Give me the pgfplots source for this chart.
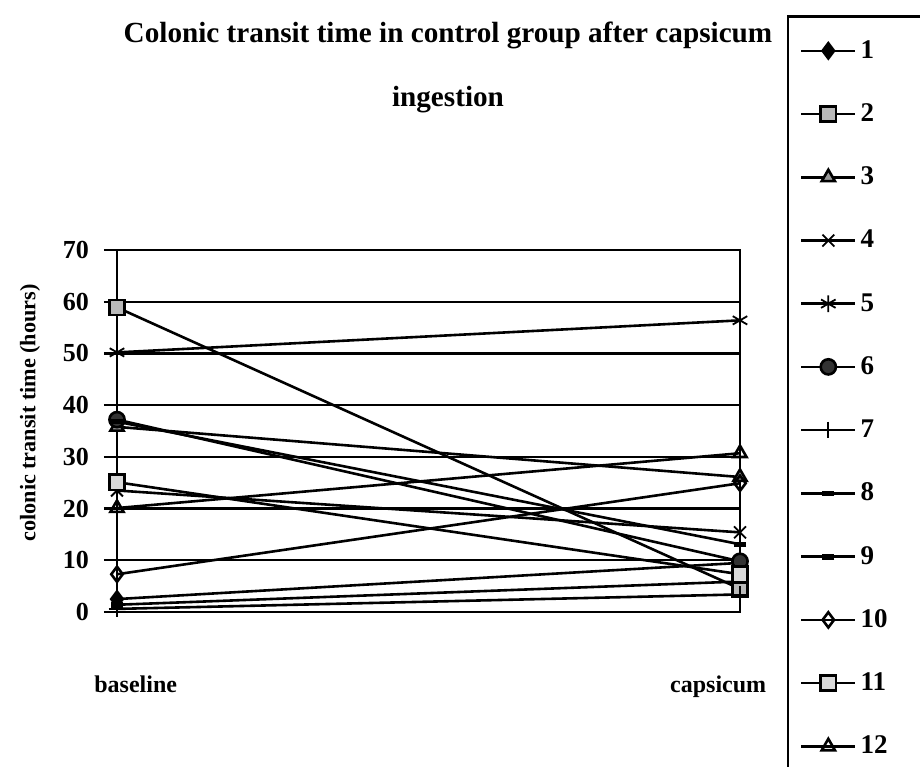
\documentclass[border=0pt]{standalone}
\usepackage{fontspec}
\setmainfont{Liberation Serif}
\usepackage{pgfplots}
\pgfplotsset{compat=1.18}
\begin{document}
\begin{tikzpicture}
\useasboundingbox (0pt,0pt) rectangle (460pt,383pt);
\node[font=\bfseries\fontsize{14.6}{17}\selectfont] at (224pt,365.5pt) {Colonic transit time in control group after capsicum};
\node[font=\bfseries\fontsize{14.6}{17}\selectfont] at (224pt,333pt) {ingestion};
\begin{axis}[
  at={(58.5pt,77pt)}, anchor=south west,
  scale only axis, width=311.5pt, height=181pt,
  xmin=0, xmax=1, ymin=0, ymax=70,
  ytick={0,10,...,70}, ytick pos=left,
  tick align=outside, major tick length=6.5pt,
  ymajorgrids, grid style={black, line width=1.1pt},
  axis line style={black, line width=1.3pt},
  every tick/.style={black, line width=1.1pt},
  xtick={0.03,0.965}, xticklabels={baseline,capsicum},
  xtick style={draw=none},
  xticklabel style={font=\bfseries\fontsize{12}{14}\selectfont, yshift=-22pt},
  yticklabel style={font=\bfseries\fontsize{13}{15}\selectfont, xshift=-4pt},
  /pgf/number format/assume math mode=true,
  ylabel={colonic transit time (hours)},
  every axis y label/.style={at={(rel axis cs:0,0.5)}, rotate=90, anchor=center, yshift=43.5pt, xshift=9pt, font=\bfseries\fontsize{11.1}{13}\selectfont},
  clip=false,
  every axis plot/.append style={black, line width=1.3pt, mark size=3.8pt, mark options={solid, line width=0.9pt}},
  legend image code/.code={\draw[mark repeat=2,mark phase=2] plot coordinates {(0pt,0pt) (13.5pt,0pt) (27pt,0pt)};},
  legend style={at={(1.075,1.649)}, anchor=north west, draw=black, line width=1.3pt,
    font=\bfseries\fontsize{13.5}{15}\selectfont, row sep=17.2pt, inner xsep=6pt, inner ysep=10pt},
  legend cell align=left,
]
\addplot[mark=diamond*, mark options={fill=black}] coordinates {(0,2.5) (1,9.5)};
\addlegendentry{\makebox[60pt][l]{1}}
\addplot[mark=square*, mark options={fill=gray!55}] coordinates {(0,58.9) (1,4.5)};
\addlegendentry{2}
\addplot[mark=triangle*, mark options={fill=gray!80}] coordinates {(0,35.8) (1,26.1)};
\addlegendentry{3}
\addplot[mark=x, mark size=4.2pt] coordinates {(0,23.5) (1,15.4)};
\addlegendentry{4}
\addplot[mark=asterisk, mark size=4.2pt] coordinates {(0,50.2) (1,56.4)};
\addlegendentry{5}
\addplot[mark=*, mark options={fill=black!80}] coordinates {(0,37.2) (1,9.8)};
\addlegendentry{6}
\addplot[mark=+, mark size=4.2pt] coordinates {(0,0.6) (1,3.4)};
\addlegendentry{7}
\addplot[mark=-, mark size=3pt, mark options={line width=2.5pt}] coordinates {(0,36.8) (1,13.1)};
\addlegendentry{8}
\addplot[mark=-, mark size=3pt, mark options={line width=3pt}] coordinates {(0,1.4) (1,5.9)};
\addlegendentry{9}
\addplot[mark=diamond, mark options={fill=white}] coordinates {(0,7.3) (1,24.9)};
\addlegendentry{10}
\addplot[mark=square*, mark options={fill=gray!30}] coordinates {(0,25.1) (1,7.3)};
\addlegendentry{11}
\addplot[mark=triangle, mark options={fill=white}] coordinates {(0,20.1) (1,30.7)};
\addlegendentry{12}
\end{axis}
\end{tikzpicture}
\end{document}
